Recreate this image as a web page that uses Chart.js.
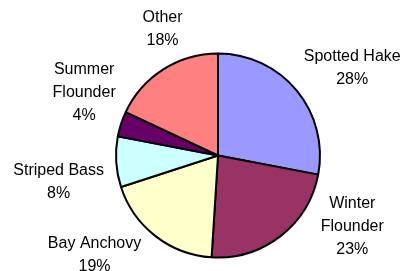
<!DOCTYPE html>
<html>
<head>
<meta charset="utf-8">
<script src="https://cdn.jsdelivr.net/npm/chart.js@4/dist/chart.umd.min.js"></script>
<style>
  html, body { margin: 0; padding: 0; background: #fff; }
  #wrap { width: 403px; height: 271px; position: relative; }
</style>
</head>
<body>
<div id="wrap"><canvas id="chart-pie"></canvas></div>
<script>
const species = ["Spotted Hake", "Winter Flounder", "Bay Anchovy", "Striped Bass", "Summer Flounder", "Other"];
const shares = [28, 23, 19, 8, 4, 18];
const labelLines = [
  ["Spotted Hake"],
  ["Winter", "Flounder"],
  ["Bay Anchovy"],
  ["Striped Bass"],
  ["Summer", "Flounder"],
  ["Other"],
];
const sliceColors = ["#9999FF", "#993366", "#FFFFCC", "#CCFFFF", "#660066", "#FF8080"];

// label placement: [angle shift from slice middle (deg), distance / radius]
const labelPlace = [
  [6, 1.58],
  [-25, 1.48],
  [14, 1.54],
  [-5, 1.58],
  [8, 1.46],
  [9, 1.37],
];

const outsideLabels = {
  id: "outsideLabels",
  afterDatasetsDraw(chart) {
    const ctx = chart.ctx;
    const meta = chart.getDatasetMeta(0);
    const total = shares.reduce((a, b) => a + b, 0);
    ctx.save();
    ctx.font = "16px 'Liberation Sans', Arial, sans-serif";
    ctx.fillStyle = "#000";
    ctx.textAlign = "center";
    ctx.textBaseline = "middle";
    const lineH = 23;
    meta.data.forEach((arc, i) => {
      const p = arc.getProps(["x", "y", "startAngle", "endAngle", "outerRadius"], true);
      const mid = (p.startAngle + p.endAngle) / 2 + labelPlace[i][0] * Math.PI / 180;
      const d = p.outerRadius * labelPlace[i][1];
      const cx = p.x + Math.cos(mid) * d;
      const cy = p.y + Math.sin(mid) * d + 2;
      const lines = [...labelLines[i], Math.round(shares[i] / total * 100) + "%"];
      const top = cy - (lines.length - 1) * lineH / 2;
      lines.forEach((t, k) => ctx.fillText(t, cx, top + k * lineH));
    });
    ctx.restore();
  },
};

document.addEventListener("DOMContentLoaded", () => {
  const el = document.getElementById("chart-pie");
  new Chart(el, {
    type: "pie",
    data: {
      labels: species,
      datasets: [{
        data: shares,
        backgroundColor: sliceColors,
        borderColor: "#000",
        borderWidth: 2,
      }],
    },
    options: {
      responsive: true,
      maintainAspectRatio: false,
      animation: false,
      layout: { padding: { left: 115, right: 82, top: 52.5, bottom: 12.5 } },
      plugins: {
        legend: { display: false },
        tooltip: { enabled: false },
      },
    },
    plugins: [outsideLabels],
  });
});
</script>
</body>
</html>
